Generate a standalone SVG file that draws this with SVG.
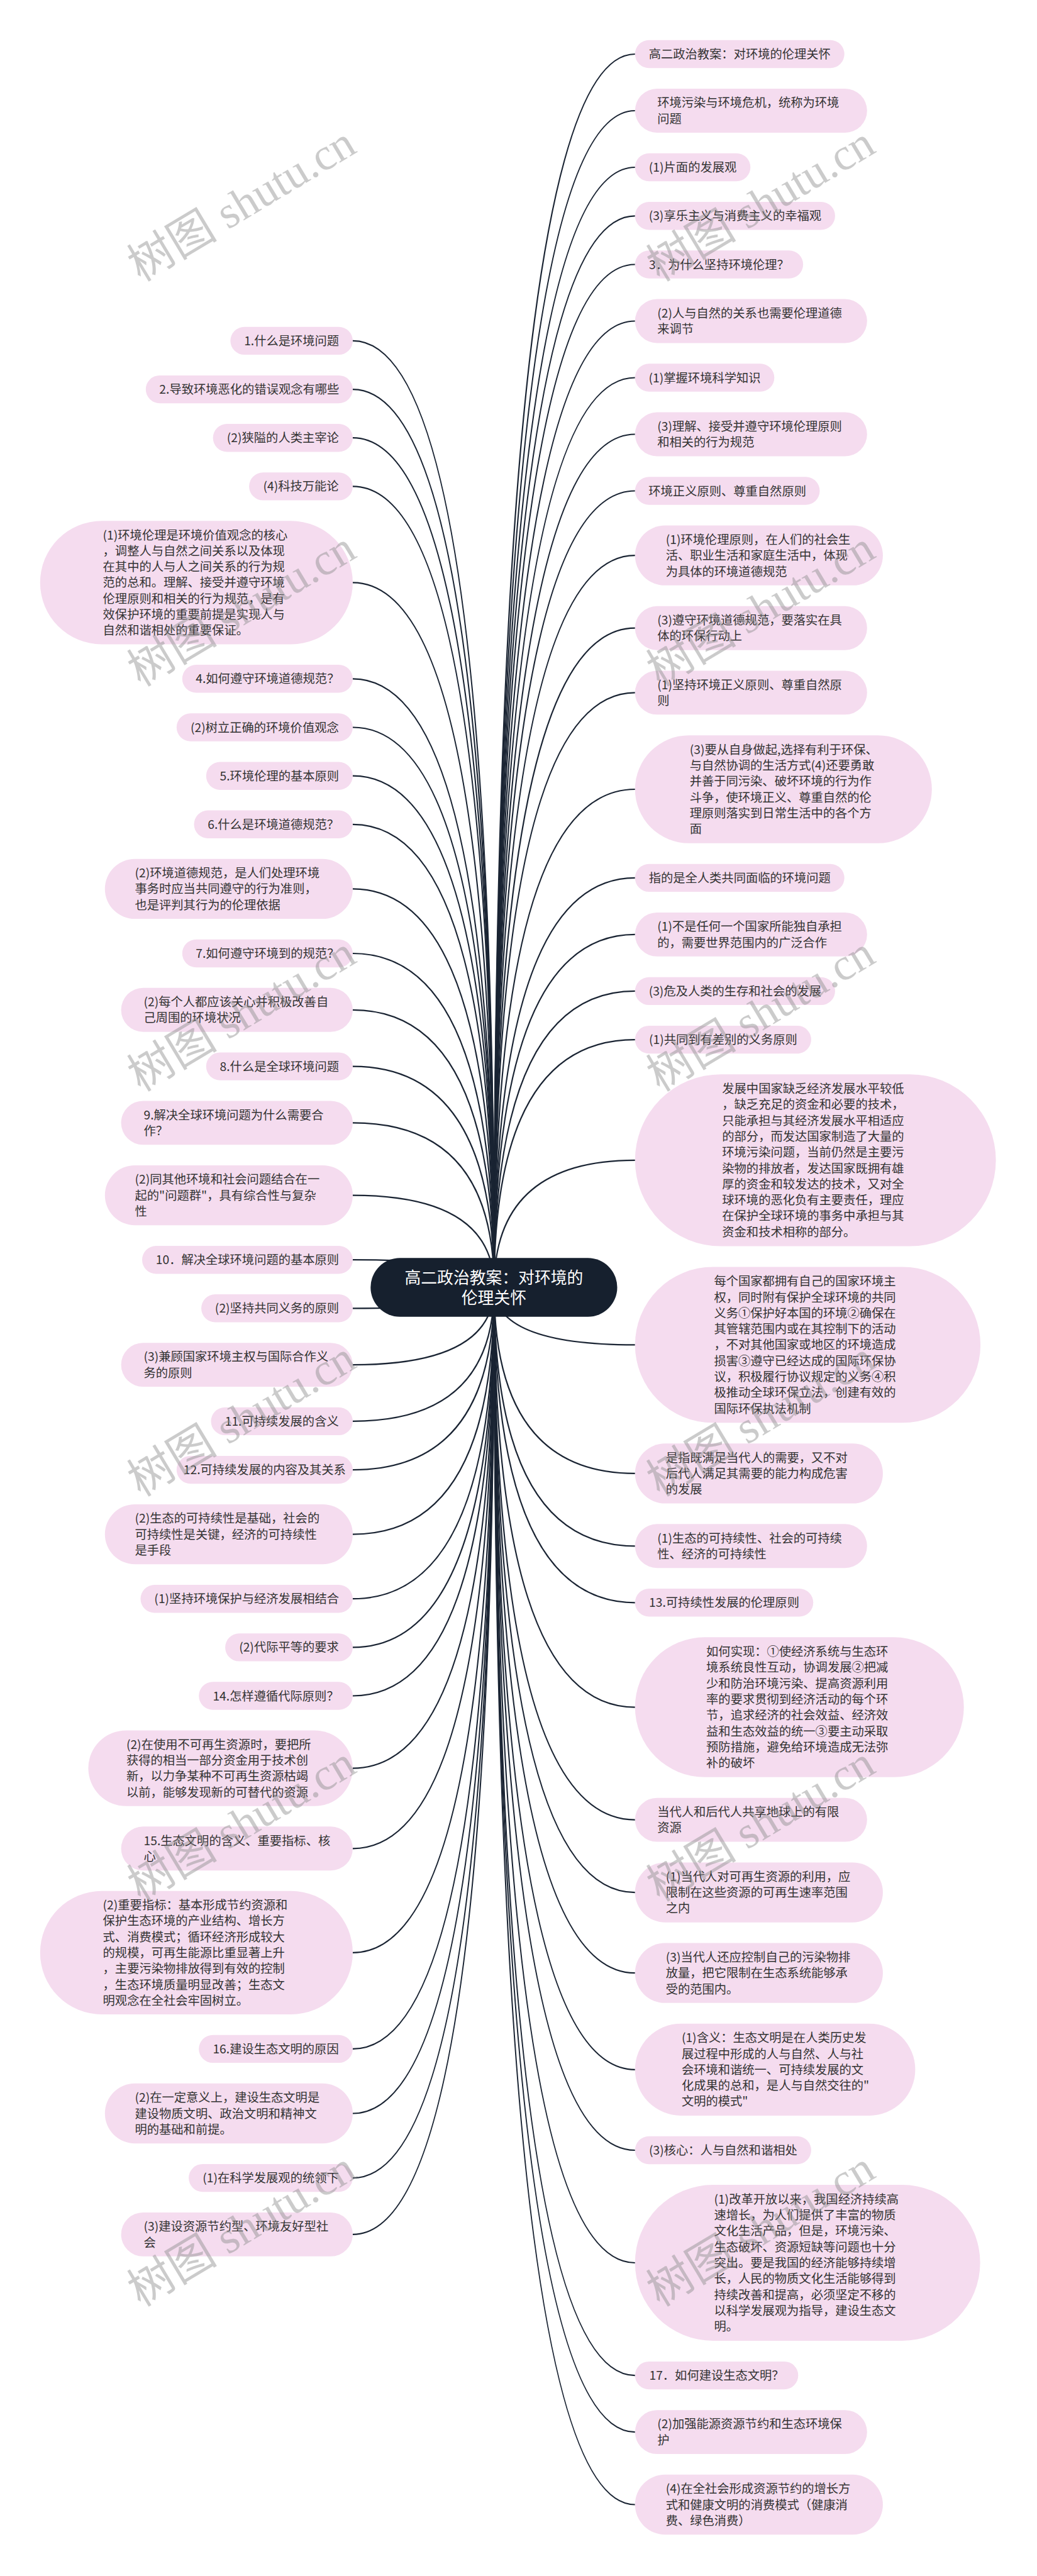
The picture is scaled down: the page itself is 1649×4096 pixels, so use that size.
<svg xmlns="http://www.w3.org/2000/svg" width="1649" height="4096" viewBox="0 0 1649 4096">
<style>
.n{fill:#f5dcef}
.t{font-family:"Noto Sans CJK SC","Noto Sans",sans-serif;font-size:19.3px;fill:#333}
.c{text-anchor:middle}
.e{fill:none;stroke:#1a2433;stroke-width:2.2}
.root{fill:#16202e}
.rt{font-family:"Noto Sans CJK SC","Noto Sans",sans-serif;font-size:25.8px;fill:#fff;text-anchor:middle}
.wm{font-family:"Liberation Serif","Noto Sans CJK SC",serif;font-size:72px;fill:#8c8c8c;fill-opacity:.45}
</style>
<rect width="1649" height="4096" fill="#fff"/>
<g id="connectors">
<path class="e" d="M785.7 2047Q785.7 86 1009.8 86"/>
<path class="e" d="M785.7 2047Q785.7 176 1009.8 176"/>
<path class="e" d="M785.7 2047Q785.7 266 1009.8 266"/>
<path class="e" d="M785.7 2047Q785.7 343.3 1009.8 343.3"/>
<path class="e" d="M785.7 2047Q785.7 420.5 1009.8 420.5"/>
<path class="e" d="M785.7 2047Q785.7 510.5 1009.8 510.5"/>
<path class="e" d="M785.7 2047Q785.7 600.5 1009.8 600.5"/>
<path class="e" d="M785.7 2047Q785.7 690.5 1009.8 690.5"/>
<path class="e" d="M785.7 2047Q785.7 780.5 1009.8 780.5"/>
<path class="e" d="M785.7 2047Q785.7 883.2 1009.8 883.2"/>
<path class="e" d="M785.7 2047Q785.7 998.7 1009.8 998.7"/>
<path class="e" d="M785.7 2047Q785.7 1101.4 1009.8 1101.4"/>
<path class="e" d="M785.7 2047Q785.7 1255 1009.8 1255"/>
<path class="e" d="M785.7 2047Q785.7 1395.9 1009.8 1395.9"/>
<path class="e" d="M785.7 2047Q785.7 1485.9 1009.8 1485.9"/>
<path class="e" d="M785.7 2047Q785.7 1575.9 1009.8 1575.9"/>
<path class="e" d="M785.7 2047Q785.7 1653.1 1009.8 1653.1"/>
<path class="e" d="M785.7 2047Q785.7 1844.9 1009.8 1844.9"/>
<path class="e" d="M785.7 2047Q785.7 2138.4 1009.8 2138.4"/>
<path class="e" d="M785.7 2047Q785.7 2342.9 1009.8 2342.9"/>
<path class="e" d="M785.7 2047Q785.7 2458.3 1009.8 2458.3"/>
<path class="e" d="M785.7 2047Q785.7 2548.3 1009.8 2548.3"/>
<path class="e" d="M785.7 2047Q785.7 2714.6 1009.8 2714.6"/>
<path class="e" d="M785.7 2047Q785.7 2893.6 1009.8 2893.6"/>
<path class="e" d="M785.7 2047Q785.7 3009.1 1009.8 3009.1"/>
<path class="e" d="M785.7 2047Q785.7 3137.2 1009.8 3137.2"/>
<path class="e" d="M785.7 2047Q785.7 3290.8 1009.8 3290.8"/>
<path class="e" d="M785.7 2047Q785.7 3419 1009.8 3419"/>
<path class="e" d="M785.7 2047Q785.7 3598 1009.8 3598"/>
<path class="e" d="M785.7 2047Q785.7 3777.1 1009.8 3777.1"/>
<path class="e" d="M785.7 2047Q785.7 3867.1 1009.8 3867.1"/>
<path class="e" d="M785.7 2047Q785.7 3982.5 1009.8 3982.5"/>
<path class="e" d="M785.7 2047Q785.7 541.9 560.9 541.9"/>
<path class="e" d="M785.7 2047Q785.7 619.1 560.9 619.1"/>
<path class="e" d="M785.7 2047Q785.7 696.2 560.9 696.2"/>
<path class="e" d="M785.7 2047Q785.7 773.4 560.9 773.4"/>
<path class="e" d="M785.7 2047Q785.7 926.4 560.9 926.4"/>
<path class="e" d="M785.7 2047Q785.7 1079.3 560.9 1079.3"/>
<path class="e" d="M785.7 2047Q785.7 1156.5 560.9 1156.5"/>
<path class="e" d="M785.7 2047Q785.7 1233.7 560.9 1233.7"/>
<path class="e" d="M785.7 2047Q785.7 1310.8 560.9 1310.8"/>
<path class="e" d="M785.7 2047Q785.7 1413.4 560.9 1413.4"/>
<path class="e" d="M785.7 2047Q785.7 1516 560.9 1516"/>
<path class="e" d="M785.7 2047Q785.7 1605.8 560.9 1605.8"/>
<path class="e" d="M785.7 2047Q785.7 1695.6 560.9 1695.6"/>
<path class="e" d="M785.7 2047Q785.7 1785.4 560.9 1785.4"/>
<path class="e" d="M785.7 2047Q785.7 1900.6 560.9 1900.6"/>
<path class="e" d="M785.7 2047Q785.7 2003.2 560.9 2003.2"/>
<path class="e" d="M785.7 2047Q785.7 2080.3 560.9 2080.3"/>
<path class="e" d="M785.7 2047Q785.7 2170.1 560.9 2170.1"/>
<path class="e" d="M785.7 2047Q785.7 2259.9 560.9 2259.9"/>
<path class="e" d="M785.7 2047Q785.7 2337.1 560.9 2337.1"/>
<path class="e" d="M785.7 2047Q785.7 2439.6 560.9 2439.6"/>
<path class="e" d="M785.7 2047Q785.7 2542.2 560.9 2542.2"/>
<path class="e" d="M785.7 2047Q785.7 2619.4 560.9 2619.4"/>
<path class="e" d="M785.7 2047Q785.7 2696.5 560.9 2696.5"/>
<path class="e" d="M785.7 2047Q785.7 2811.6 560.9 2811.6"/>
<path class="e" d="M785.7 2047Q785.7 2939.3 560.9 2939.3"/>
<path class="e" d="M785.7 2047Q785.7 3104.9 560.9 3104.9"/>
<path class="e" d="M785.7 2047Q785.7 3257.9 560.9 3257.9"/>
<path class="e" d="M785.7 2047Q785.7 3360.5 560.9 3360.5"/>
<path class="e" d="M785.7 2047Q785.7 3463.1 560.9 3463.1"/>
<path class="e" d="M785.7 2047Q785.7 3552.9 560.9 3552.9"/>
</g>
<g id="root"><rect class="root" x="589.3" y="2000.3" width="392.2" height="93.4" rx="46.7"/><text class="rt"><tspan x="785.4" y="2040.7">高二政治教案：对环境的</tspan><tspan x="785.4" y="2072.9">伦理关怀</tspan></text></g>
<g id="r1"><rect class="n" x="1009.8" y="63.8" width="332.9" height="44.4" rx="22.2"/><text class="t c" x="1176.3" y="93">高二政治教案：对环境的伦理关怀</text></g>
<g id="r2"><rect class="n" x="1009.8" y="141.05" width="369" height="69.9" rx="34.95"/><text class="t"><tspan x="1045.2" y="170.35">环境污染与环境危机，统称为环境</tspan><tspan x="1045.2" y="195.65">问题</tspan></text></g>
<g id="r3"><rect class="n" x="1009.8" y="243.8" width="183.5" height="44.4" rx="22.2"/><text class="t c" x="1101.55" y="273">(1)片面的发展观</text></g>
<g id="r4"><rect class="n" x="1009.8" y="321.1" width="318.1" height="44.4" rx="22.2"/><text class="t c" x="1168.85" y="350.3">(3)享乐主义与消费主义的幸福观</text></g>
<g id="r5"><rect class="n" x="1009.8" y="398.3" width="267.3" height="44.4" rx="22.2"/><text class="t c" x="1143.45" y="427.5">3．为什么坚持环境伦理？</text></g>
<g id="r6"><rect class="n" x="1009.8" y="475.55" width="369" height="69.9" rx="34.95"/><text class="t"><tspan x="1045.2" y="504.85">(2)人与自然的关系也需要伦理道德</tspan><tspan x="1045.2" y="530.15">来调节</tspan></text></g>
<g id="r7"><rect class="n" x="1009.8" y="578.3" width="221.5" height="44.4" rx="22.2"/><text class="t c" x="1120.55" y="607.5">(1)掌握环境科学知识</text></g>
<g id="r8"><rect class="n" x="1009.8" y="655.55" width="369" height="69.9" rx="34.95"/><text class="t"><tspan x="1045.2" y="684.85">(3)理解、接受并遵守环境伦理原则</tspan><tspan x="1045.2" y="710.15">和相关的行为规范</tspan></text></g>
<g id="r9"><rect class="n" x="1009.8" y="758.3" width="293.7" height="44.4" rx="22.2"/><text class="t c" x="1156.65" y="787.5">环境正义原则、尊重自然原则</text></g>
<g id="r10"><rect class="n" x="1009.8" y="835.55" width="394.1" height="95.3" rx="47.65"/><text class="t"><tspan x="1058.7" y="864.9">(1)环境伦理原则，在人们的社会生</tspan><tspan x="1058.7" y="890.2">活、职业生活和家庭生活中，体现</tspan><tspan x="1058.7" y="915.5">为具体的环境道德规范</tspan></text></g>
<g id="r11"><rect class="n" x="1009.8" y="963.75" width="369" height="69.9" rx="34.95"/><text class="t"><tspan x="1045.2" y="993.05">(3)遵守环境道德规范，要落实在具</tspan><tspan x="1045.2" y="1018.35">体的环保行动上</tspan></text></g>
<g id="r12"><rect class="n" x="1009.8" y="1066.45" width="369" height="69.9" rx="34.95"/><text class="t"><tspan x="1045.2" y="1095.75">(1)坚持环境正义原则、尊重自然原</tspan><tspan x="1045.2" y="1121.05">则</tspan></text></g>
<g id="r13"><rect class="n" x="1009.8" y="1169.2" width="472" height="171.6" rx="85.8"/><text class="t"><tspan x="1096.7" y="1198.75">(3)要从自身做起,选择有利于环保、</tspan><tspan x="1096.7" y="1224.05">与自然协调的生活方式(4)还要勇敢</tspan><tspan x="1096.7" y="1249.35">并善于同污染、破坏环境的行为作</tspan><tspan x="1096.7" y="1274.65">斗争，使环境正义、尊重自然的伦</tspan><tspan x="1096.7" y="1299.95">理原则落实到日常生活中的各个方</tspan><tspan x="1096.7" y="1325.25">面</tspan></text></g>
<g id="r14"><rect class="n" x="1009.8" y="1373.7" width="332.9" height="44.4" rx="22.2"/><text class="t c" x="1176.3" y="1402.9">指的是全人类共同面临的环境问题</text></g>
<g id="r15"><rect class="n" x="1009.8" y="1450.95" width="369" height="69.9" rx="34.95"/><text class="t"><tspan x="1045.2" y="1480.25">(1)不是任何一个国家所能独自承担</tspan><tspan x="1045.2" y="1505.55">的，需要世界范围内的广泛合作</tspan></text></g>
<g id="r16"><rect class="n" x="1009.8" y="1553.7" width="318.1" height="44.4" rx="22.2"/><text class="t c" x="1168.85" y="1582.9">(3)危及人类的生存和社会的发展</text></g>
<g id="r17"><rect class="n" x="1009.8" y="1630.9" width="280.1" height="44.4" rx="22.2"/><text class="t c" x="1149.85" y="1660.1">(1)共同到有差别的义务原则</text></g>
<g id="r18"><rect class="n" x="1009.8" y="1708.2" width="573.8" height="273.4" rx="136.7"/><text class="t"><tspan x="1148.3" y="1738.05">发展中国家缺乏经济发展水平较低</tspan><tspan x="1148.3" y="1763.35">，缺乏充足的资金和必要的技术，</tspan><tspan x="1148.3" y="1788.65">只能承担与其经济发展水平相适应</tspan><tspan x="1148.3" y="1813.95">的部分，而发达国家制造了大量的</tspan><tspan x="1148.3" y="1839.25">环境污染问题，当前仍然是主要污</tspan><tspan x="1148.3" y="1864.55">染物的排放者，发达国家既拥有雄</tspan><tspan x="1148.3" y="1889.85">厚的资金和较发达的技术，又对全</tspan><tspan x="1148.3" y="1915.15">球环境的恶化负有主要责任，理应</tspan><tspan x="1148.3" y="1940.45">在保护全球环境的事务中承担与其</tspan><tspan x="1148.3" y="1965.75">资金和技术相称的部分。</tspan></text></g>
<g id="r19"><rect class="n" x="1009.8" y="2014.45" width="549.3" height="247.9" rx="123.95"/><text class="t"><tspan x="1135.4" y="2044.2">每个国家都拥有自己的国家环境主</tspan><tspan x="1135.4" y="2069.5">权，同时附有保护全球环境的共同</tspan><tspan x="1135.4" y="2094.8">义务①保护好本国的环境②确保在</tspan><tspan x="1135.4" y="2120.1">其管辖范围内或在其控制下的活动</tspan><tspan x="1135.4" y="2145.4">，不对其他国家或地区的环境造成</tspan><tspan x="1135.4" y="2170.7">损害③遵守已经达成的国际环保协</tspan><tspan x="1135.4" y="2196">议，积极履行协议规定的义务④积</tspan><tspan x="1135.4" y="2221.3">极推动全球环保立法，创建有效的</tspan><tspan x="1135.4" y="2246.6">国际环保执法机制</tspan></text></g>
<g id="r20"><rect class="n" x="1009.8" y="2295.25" width="394.1" height="95.3" rx="47.65"/><text class="t"><tspan x="1058.7" y="2324.6">是指既满足当代人的需要，又不对</tspan><tspan x="1058.7" y="2349.9">后代人满足其需要的能力构成危害</tspan><tspan x="1058.7" y="2375.2">的发展</tspan></text></g>
<g id="r21"><rect class="n" x="1009.8" y="2423.35" width="369" height="69.9" rx="34.95"/><text class="t"><tspan x="1045.2" y="2452.65">(1)生态的可持续性、社会的可持续</tspan><tspan x="1045.2" y="2477.95">性、经济的可持续性</tspan></text></g>
<g id="r22"><rect class="n" x="1009.8" y="2526.1" width="283.4" height="44.4" rx="22.2"/><text class="t c" x="1151.5" y="2555.3">13.可持续性发展的伦理原则</text></g>
<g id="r23"><rect class="n" x="1009.8" y="2603.35" width="522.9" height="222.5" rx="111.25"/><text class="t"><tspan x="1123.1" y="2633.05">如何实现：①使经济系统与生态环</tspan><tspan x="1123.1" y="2658.35">境系统良性互动，协调发展②把减</tspan><tspan x="1123.1" y="2683.65">少和防治环境污染、提高资源利用</tspan><tspan x="1123.1" y="2708.95">率的要求贯彻到经济活动的每个环</tspan><tspan x="1123.1" y="2734.25">节，追求经济的社会效益、经济效</tspan><tspan x="1123.1" y="2759.55">益和生态效益的统一③要主动采取</tspan><tspan x="1123.1" y="2784.85">预防措施，避免给环境造成无法弥</tspan><tspan x="1123.1" y="2810.15">补的破坏</tspan></text></g>
<g id="r24"><rect class="n" x="1009.8" y="2858.65" width="369" height="69.9" rx="34.95"/><text class="t"><tspan x="1045.2" y="2887.95">当代人和后代人共享地球上的有限</tspan><tspan x="1045.2" y="2913.25">资源</tspan></text></g>
<g id="r25"><rect class="n" x="1009.8" y="2961.45" width="394.1" height="95.3" rx="47.65"/><text class="t"><tspan x="1058.7" y="2990.8">(1)当代人对可再生资源的利用，应</tspan><tspan x="1058.7" y="3016.1">限制在这些资源的可再生速率范围</tspan><tspan x="1058.7" y="3041.4">之内</tspan></text></g>
<g id="r26"><rect class="n" x="1009.8" y="3089.55" width="394.1" height="95.3" rx="47.65"/><text class="t"><tspan x="1058.7" y="3118.9">(3)当代人还应控制自己的污染物排</tspan><tspan x="1058.7" y="3144.2">放量，把它限制在生态系统能够承</tspan><tspan x="1058.7" y="3169.5">受的范围内。</tspan></text></g>
<g id="r27"><rect class="n" x="1009.8" y="3217.7" width="445.6" height="146.2" rx="73.1"/><text class="t"><tspan x="1083.9" y="3247.2">(1)含义：生态文明是在人类历史发</tspan><tspan x="1083.9" y="3272.5">展过程中形成的人与自然、人与社</tspan><tspan x="1083.9" y="3297.8">会环境和谐统一、可持续发展的文</tspan><tspan x="1083.9" y="3323.1">化成果的总和，是人与自然交往的"</tspan><tspan x="1083.9" y="3348.4">文明的模式"</tspan></text></g>
<g id="r28"><rect class="n" x="1009.8" y="3396.8" width="280.1" height="44.4" rx="22.2"/><text class="t c" x="1149.85" y="3426">(3)核心：人与自然和谐相处</text></g>
<g id="r29"><rect class="n" x="1009.8" y="3474.05" width="548.8" height="247.9" rx="123.95"/><text class="t"><tspan x="1135.4" y="3503.8">(1)改革开放以来，我国经济持续高</tspan><tspan x="1135.4" y="3529.1">速增长，为人们提供了丰富的物质</tspan><tspan x="1135.4" y="3554.4">文化生活产品，但是，环境污染、</tspan><tspan x="1135.4" y="3579.7">生态破坏、资源短缺等问题也十分</tspan><tspan x="1135.4" y="3605">突出。要是我国的经济能够持续增</tspan><tspan x="1135.4" y="3630.3">长，人民的物质文化生活能够得到</tspan><tspan x="1135.4" y="3655.6">持续改善和提高，必须坚定不移的</tspan><tspan x="1135.4" y="3680.9">以科学发展观为指导，建设生态文</tspan><tspan x="1135.4" y="3706.2">明。</tspan></text></g>
<g id="r30"><rect class="n" x="1009.8" y="3754.9" width="259.5" height="44.4" rx="22.2"/><text class="t c" x="1139.55" y="3784.1">17．如何建设生态文明？</text></g>
<g id="r31"><rect class="n" x="1009.8" y="3832.15" width="369" height="69.9" rx="34.95"/><text class="t"><tspan x="1045.2" y="3861.45">(2)加强能源资源节约和生态环境保</tspan><tspan x="1045.2" y="3886.75">护</tspan></text></g>
<g id="r32"><rect class="n" x="1009.8" y="3934.85" width="394.1" height="95.3" rx="47.65"/><text class="t"><tspan x="1058.7" y="3964.2">(4)在全社会形成资源节约的增长方</tspan><tspan x="1058.7" y="3989.5">式和健康文明的消费模式（健康消</tspan><tspan x="1058.7" y="4014.8">费、绿色消费）</tspan></text></g>
<g id="l1"><rect class="n" x="366.4" y="519.7" width="194.5" height="44.4" rx="22.2"/><text class="t c" x="463.65" y="548.9">1.什么是环境问题</text></g>
<g id="l2"><rect class="n" x="231.8" y="596.9" width="329.1" height="44.4" rx="22.2"/><text class="t c" x="396.35" y="626.1">2.导致环境恶化的错误观念有哪些</text></g>
<g id="l3"><rect class="n" x="338.7" y="674" width="222.2" height="44.4" rx="22.2"/><text class="t c" x="449.8" y="703.2">(2)狭隘的人类主宰论</text></g>
<g id="l4"><rect class="n" x="396.1" y="751.2" width="164.8" height="44.4" rx="22.2"/><text class="t c" x="478.5" y="780.4">(4)科技万能论</text></g>
<g id="l5"><rect class="n" x="63.8" y="828.3" width="497.1" height="196.2" rx="98.1"/><text class="t"><tspan x="163.6" y="857.5">(1)环境伦理是环境价值观念的核心</tspan><tspan x="163.6" y="882.8">，调整人与自然之间关系以及体现</tspan><tspan x="163.6" y="908.1">在其中的人与人之间关系的行为规</tspan><tspan x="163.6" y="933.4">范的总和。理解、接受并遵守环境</tspan><tspan x="163.6" y="958.7">伦理原则和相关的行为规范，是有</tspan><tspan x="163.6" y="984">效保护环境的重要前提是实现人与</tspan><tspan x="163.6" y="1009.3">自然和谐相处的重要保证。</tspan></text></g>
<g id="l6"><rect class="n" x="289.8" y="1057.1" width="271.1" height="44.4" rx="22.2"/><text class="t c" x="425.35" y="1086.3">4.如何遵守环境道德规范？</text></g>
<g id="l7"><rect class="n" x="280.8" y="1134.3" width="280.1" height="44.4" rx="22.2"/><text class="t c" x="420.85" y="1163.5">(2)树立正确的环境价值观念</text></g>
<g id="l8"><rect class="n" x="327.8" y="1211.5" width="233.1" height="44.4" rx="22.2"/><text class="t c" x="444.35" y="1240.7">5.环境伦理的基本原则</text></g>
<g id="l9"><rect class="n" x="308.5" y="1288.6" width="252.4" height="44.4" rx="22.2"/><text class="t c" x="434.7" y="1317.8">6.什么是环境道德规范？</text></g>
<g id="l10"><rect class="n" x="166.8" y="1365.75" width="394.1" height="95.3" rx="47.65"/><text class="t"><tspan x="214.5" y="1395.1">(2)环境道德规范，是人们处理环境</tspan><tspan x="214.5" y="1420.4">事务时应当共同遵守的行为准则，</tspan><tspan x="214.5" y="1445.7">也是评判其行为的伦理依据</tspan></text></g>
<g id="l11"><rect class="n" x="289.8" y="1493.8" width="271.1" height="44.4" rx="22.2"/><text class="t c" x="425.35" y="1523">7.如何遵守环境到的规范？</text></g>
<g id="l12"><rect class="n" x="192.6" y="1570.85" width="368.3" height="69.9" rx="34.95"/><text class="t"><tspan x="228.5" y="1600.15">(2)每个人都应该关心并积极改善自</tspan><tspan x="228.5" y="1625.45">己周围的环境状况</tspan></text></g>
<g id="l13"><rect class="n" x="327.8" y="1673.4" width="233.1" height="44.4" rx="22.2"/><text class="t c" x="444.35" y="1702.6">8.什么是全球环境问题</text></g>
<g id="l14"><rect class="n" x="192.6" y="1750.45" width="368.3" height="69.9" rx="34.95"/><text class="t"><tspan x="228.5" y="1779.75">9.解决全球环境问题为什么需要合</tspan><tspan x="228.5" y="1805.05">作？</tspan></text></g>
<g id="l15"><rect class="n" x="166.8" y="1852.95" width="394.1" height="95.3" rx="47.65"/><text class="t"><tspan x="214.5" y="1882.3">(2)同其他环境和社会问题结合在一</tspan><tspan x="214.5" y="1907.6">起的"问题群"，具有综合性与复杂</tspan><tspan x="214.5" y="1932.9">性</tspan></text></g>
<g id="l16"><rect class="n" x="226" y="1981" width="334.9" height="44.4" rx="22.2"/><text class="t c" x="393.45" y="2010.2">10．解决全球环境问题的基本原则</text></g>
<g id="l17"><rect class="n" x="320.1" y="2058.1" width="240.8" height="44.4" rx="22.2"/><text class="t c" x="440.5" y="2087.3">(2)坚持共同义务的原则</text></g>
<g id="l18"><rect class="n" x="192.6" y="2135.15" width="368.3" height="69.9" rx="34.95"/><text class="t"><tspan x="228.5" y="2164.45">(3)兼顾国家环境主权与国际合作义</tspan><tspan x="228.5" y="2189.75">务的原则</tspan></text></g>
<g id="l19"><rect class="n" x="335.5" y="2237.7" width="225.4" height="44.4" rx="22.2"/><text class="t c" x="448.2" y="2266.9">11.可持续发展的含义</text></g>
<g id="l20"><rect class="n" x="280.8" y="2314.9" width="280.1" height="44.4" rx="22.2"/><text class="t c" x="420.85" y="2344.1">12.可持续发展的内容及其关系</text></g>
<g id="l21"><rect class="n" x="166.8" y="2391.95" width="394.1" height="95.3" rx="47.65"/><text class="t"><tspan x="214.5" y="2421.3">(2)生态的可持续性是基础，社会的</tspan><tspan x="214.5" y="2446.6">可持续性是关键，经济的可持续性</tspan><tspan x="214.5" y="2471.9">是手段</tspan></text></g>
<g id="l22"><rect class="n" x="223.5" y="2520" width="337.4" height="44.4" rx="22.2"/><text class="t c" x="392.2" y="2549.2">(1)坚持环境保护与经济发展相结合</text></g>
<g id="l23"><rect class="n" x="358.1" y="2597.2" width="202.8" height="44.4" rx="22.2"/><text class="t c" x="459.5" y="2626.4">(2)代际平等的要求</text></g>
<g id="l24"><rect class="n" x="316.2" y="2674.3" width="244.7" height="44.4" rx="22.2"/><text class="t c" x="438.55" y="2703.5">14.怎样遵循代际原则？</text></g>
<g id="l25"><rect class="n" x="140.4" y="2751.45" width="420.5" height="120.3" rx="60.15"/><text class="t"><tspan x="200.9" y="2780.65">(2)在使用不可再生资源时，要把所</tspan><tspan x="200.9" y="2805.95">获得的相当一部分资金用于技术创</tspan><tspan x="200.9" y="2831.25">新，以力争某种不可再生资源枯竭</tspan><tspan x="200.9" y="2856.55">以前，能够发现新的可替代的资源</tspan></text></g>
<g id="l26"><rect class="n" x="192.6" y="2904.35" width="368.3" height="69.9" rx="34.95"/><text class="t"><tspan x="228.5" y="2933.65">15.生态文明的含义、重要指标、核</tspan><tspan x="228.5" y="2958.95">心</tspan></text></g>
<g id="l27"><rect class="n" x="63.8" y="3006.8" width="497.1" height="196.2" rx="98.1"/><text class="t"><tspan x="163.6" y="3036">(2)重要指标：基本形成节约资源和</tspan><tspan x="163.6" y="3061.3">保护生态环境的产业结构、增长方</tspan><tspan x="163.6" y="3086.6">式、消费模式；循环经济形成较大</tspan><tspan x="163.6" y="3111.9">的规模，可再生能源比重显著上升</tspan><tspan x="163.6" y="3137.2">，主要污染物排放得到有效的控制</tspan><tspan x="163.6" y="3162.5">，生态环境质量明显改善；生态文</tspan><tspan x="163.6" y="3187.8">明观念在全社会牢固树立。</tspan></text></g>
<g id="l28"><rect class="n" x="316.2" y="3235.7" width="244.7" height="44.4" rx="22.2"/><text class="t c" x="438.55" y="3264.9">16.建设生态文明的原因</text></g>
<g id="l29"><rect class="n" x="166.8" y="3312.85" width="394.1" height="95.3" rx="47.65"/><text class="t"><tspan x="214.5" y="3342.2">(2)在一定意义上，建设生态文明是</tspan><tspan x="214.5" y="3367.5">建设物质文明、政治文明和精神文</tspan><tspan x="214.5" y="3392.8">明的基础和前提。</tspan></text></g>
<g id="l30"><rect class="n" x="300.1" y="3440.9" width="260.8" height="44.4" rx="22.2"/><text class="t c" x="430.5" y="3470.1">(1)在科学发展观的统领下</text></g>
<g id="l31"><rect class="n" x="192.6" y="3517.95" width="368.3" height="69.9" rx="34.95"/><text class="t"><tspan x="228.5" y="3547.25">(3)建设资源节约型、环境友好型社</tspan><tspan x="228.5" y="3572.55">会</tspan></text></g>
<g id="watermarks">
<text class="wm" x="223.5" y="449" transform="rotate(-31 223.5 449)">树图 shutu.cn</text>
<text class="wm" x="1049" y="449" transform="rotate(-31 1049 449)">树图 shutu.cn</text>
<text class="wm" x="223.5" y="1093" transform="rotate(-31 223.5 1093)">树图 shutu.cn</text>
<text class="wm" x="1049" y="1093" transform="rotate(-31 1049 1093)">树图 shutu.cn</text>
<text class="wm" x="223.5" y="1737" transform="rotate(-31 223.5 1737)">树图 shutu.cn</text>
<text class="wm" x="1049" y="1737" transform="rotate(-31 1049 1737)">树图 shutu.cn</text>
<text class="wm" x="223.5" y="2381" transform="rotate(-31 223.5 2381)">树图 shutu.cn</text>
<text class="wm" x="1049" y="2381" transform="rotate(-31 1049 2381)">树图 shutu.cn</text>
<text class="wm" x="223.5" y="3025" transform="rotate(-31 223.5 3025)">树图 shutu.cn</text>
<text class="wm" x="1049" y="3025" transform="rotate(-31 1049 3025)">树图 shutu.cn</text>
<text class="wm" x="223.5" y="3669" transform="rotate(-31 223.5 3669)">树图 shutu.cn</text>
<text class="wm" x="1049" y="3669" transform="rotate(-31 1049 3669)">树图 shutu.cn</text>
</g>
</svg>
